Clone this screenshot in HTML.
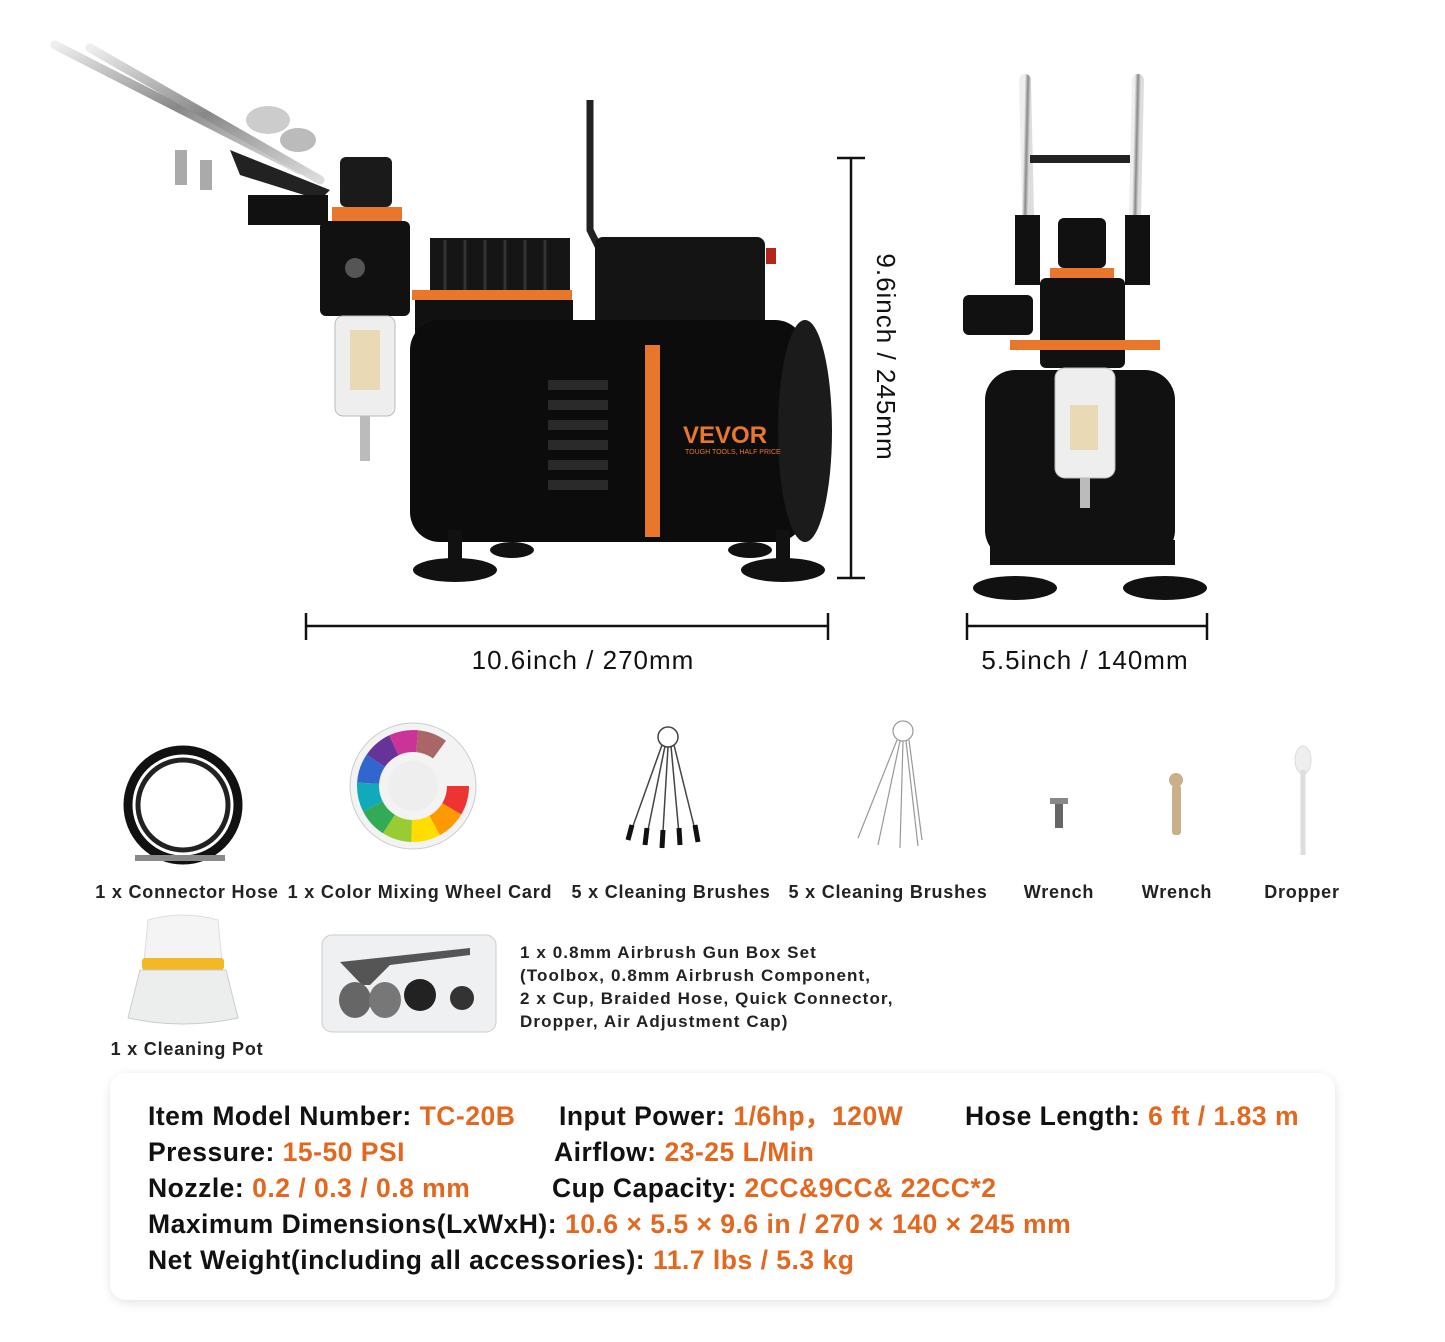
<!DOCTYPE html>
<html><head><meta charset="utf-8"><style>
html,body{margin:0;padding:0;background:#fff;}
svg{display:block;font-family:"Liberation Sans",Arial,sans-serif;}
</style></head><body>
<svg width="1445" height="1342" viewBox="0 0 1445 1342" xmlns="http://www.w3.org/2000/svg">
<defs>
<filter id="sh" x="-5%" y="-10%" width="110%" height="120%"><feGaussianBlur stdDeviation="6"/></filter>
<linearGradient id="chrome" x1="0" y1="0" x2="1" y2="1"><stop offset="0" stop-color="#eee"/><stop offset=".5" stop-color="#888"/><stop offset="1" stop-color="#ddd"/></linearGradient>
</defs>
<g stroke="url(#chrome)" stroke-linecap="round">
<line x1="55" y1="45" x2="300" y2="170" stroke-width="9"/>
<line x1="90" y1="48" x2="320" y2="180" stroke-width="9"/>
</g>
<ellipse cx="268" cy="120" rx="22" ry="14" fill="#ccc"/>
<ellipse cx="298" cy="140" rx="18" ry="12" fill="#bbb"/>
<rect x="175" y="150" width="12" height="35" fill="#aaa"/><rect x="200" y="160" width="12" height="30" fill="#aaa"/>
<path d="M230 150 L330 190 L320 200 L240 175 Z" fill="#222"/>
<rect x="248" y="195" width="80" height="30" fill="#111"/>
<rect x="340" y="157" width="52" height="50" rx="6" fill="#1a1a1a"/>
<rect x="332" y="207" width="70" height="14" fill="#e8762b"/>
<rect x="320" y="221" width="90" height="95" rx="6" fill="#111"/>
<circle cx="355" cy="268" r="10" fill="#555"/>
<rect x="335" y="316" width="60" height="100" rx="8" fill="#eee" stroke="#bbb"/>
<rect x="350" y="330" width="30" height="60" fill="#e9d9b5"/>
<rect x="360" y="416" width="10" height="45" fill="#bbb"/>
<rect x="430" y="238" width="140" height="62" fill="#151515"/>
<g stroke="#333" stroke-width="3"><line x1="445" y1="240" x2="445" y2="298"/><line x1="465" y1="240" x2="465" y2="298"/><line x1="485" y1="240" x2="485" y2="298"/><line x1="505" y1="240" x2="505" y2="298"/><line x1="525" y1="240" x2="525" y2="298"/><line x1="545" y1="240" x2="545" y2="298"/></g>
<rect x="412" y="290" width="160" height="10" fill="#e8762b"/>
<rect x="415" y="300" width="158" height="35" fill="#111"/>
<path d="M590 100 L590 230 L600 250" stroke="#222" stroke-width="7" fill="none"/>
<rect x="595" y="237" width="170" height="95" rx="8" fill="#141414"/>
<rect x="766" y="248" width="10" height="16" fill="#b3261e"/>
<rect x="410" y="320" width="395" height="222" rx="30" fill="#0c0c0c"/>
<ellipse cx="805" cy="431" rx="27" ry="111" fill="#1b1b1b"/>
<rect x="645" y="345" width="15" height="192" fill="#e8762b"/>
<g fill="#2a2a2a"><rect x="548" y="380" width="60" height="10"/><rect x="548" y="400" width="60" height="10"/><rect x="548" y="420" width="60" height="10"/><rect x="548" y="440" width="60" height="10"/><rect x="548" y="460" width="60" height="10"/><rect x="548" y="480" width="60" height="10"/></g>
<text x="683" y="443" font-size="24" font-weight="bold" fill="#e8762b">VEVOR</text>
<text x="685" y="454" font-size="7" fill="#e8762b">TOUGH TOOLS, HALF PRICE</text>
<g fill="#111"><ellipse cx="455" cy="570" rx="42" ry="12"/><ellipse cx="512" cy="550" rx="22" ry="8"/><ellipse cx="783" cy="570" rx="42" ry="12"/><ellipse cx="750" cy="550" rx="22" ry="8"/></g>
<rect x="448" y="530" width="14" height="35" fill="#111"/><rect x="776" y="530" width="14" height="35" fill="#111"/>
<g stroke="#111" stroke-width="2.5">
<line x1="306" y1="626" x2="828" y2="626"/><line x1="306" y1="613" x2="306" y2="640"/><line x1="828" y1="613" x2="828" y2="640"/>
<line x1="967" y1="626" x2="1207" y2="626"/><line x1="967" y1="613" x2="967" y2="640"/><line x1="1207" y1="613" x2="1207" y2="640"/>
<line x1="851" y1="158" x2="851" y2="578"/><line x1="837" y1="158" x2="865" y2="158"/><line x1="837" y1="578" x2="865" y2="578"/>
</g>
<g font-size="26" letter-spacing="1" text-anchor="middle" fill="#111">
<text x="583" y="669">10.6inch / 270mm</text>
<text x="1085" y="669">5.5inch / 140mm</text>
<text transform="translate(877,357) rotate(90)">9.6inch / 245mm</text>
</g>
<g stroke="url(#chrome)" stroke-width="12" stroke-linecap="round"><line x1="1025" y1="80" x2="1028" y2="215"/><line x1="1138" y1="80" x2="1135" y2="215"/></g>
<rect x="1030" y="155" width="100" height="8" fill="#222"/>
<rect x="1015" y="215" width="25" height="70" fill="#111"/><rect x="1125" y="215" width="25" height="70" fill="#111"/>
<rect x="963" y="295" width="70" height="40" rx="6" fill="#111"/>
<rect x="1058" y="218" width="48" height="50" rx="6" fill="#111"/>
<rect x="1050" y="268" width="64" height="10" fill="#e8762b"/>
<rect x="1040" y="278" width="85" height="90" rx="6" fill="#111"/>
<rect x="1010" y="340" width="150" height="10" fill="#e8762b"/>
<rect x="985" y="370" width="190" height="190" rx="30" fill="#111"/>
<rect x="1055" y="368" width="60" height="110" rx="10" fill="#eee" stroke="#bbb"/>
<rect x="1070" y="405" width="28" height="45" fill="#e9d9b5"/>
<rect x="1080" y="478" width="10" height="30" fill="#bbb"/>
<rect x="990" y="540" width="185" height="25" fill="#111"/>
<ellipse cx="1015" cy="588" rx="42" ry="12" fill="#111"/><ellipse cx="1165" cy="588" rx="42" ry="12" fill="#111"/>
<circle cx="183" cy="805" r="55" fill="none" stroke="#111" stroke-width="9"/>
<circle cx="183" cy="805" r="45" fill="none" stroke="#222" stroke-width="5"/>
<line x1="135" y1="858" x2="225" y2="858" stroke="#888" stroke-width="6"/>
<circle cx="413" cy="786" r="63" fill="#f3f3f3" stroke="#ccc"/>
<g fill="none" stroke-width="22">
<circle cx="413" cy="786" r="45" stroke="#e33" stroke-dasharray="24 260"/>
<circle cx="413" cy="786" r="45" stroke="#f90" stroke-dasharray="0 24 24 236"/>
<circle cx="413" cy="786" r="45" stroke="#fd0" stroke-dasharray="0 48 24 212"/>
<circle cx="413" cy="786" r="45" stroke="#9c3" stroke-dasharray="0 72 24 188"/>
<circle cx="413" cy="786" r="45" stroke="#3a5" stroke-dasharray="0 96 24 164"/>
<circle cx="413" cy="786" r="45" stroke="#1ab" stroke-dasharray="0 120 24 140"/>
<circle cx="413" cy="786" r="45" stroke="#36c" stroke-dasharray="0 144 24 116"/>
<circle cx="413" cy="786" r="45" stroke="#639" stroke-dasharray="0 168 24 92"/>
<circle cx="413" cy="786" r="45" stroke="#c39" stroke-dasharray="0 192 24 68"/>
<circle cx="413" cy="786" r="45" stroke="#a66" stroke-dasharray="0 216 24 44"/>
</g>
<circle cx="413" cy="786" r="25" fill="#eee"/>
<g stroke="#444" stroke-width="1.5" fill="none">
<circle cx="668" cy="737" r="10"/>
<line x1="662" y1="745" x2="628" y2="840"/><line x1="665" y1="746" x2="645" y2="845"/><line x1="668" y1="747" x2="662" y2="848"/><line x1="671" y1="746" x2="680" y2="845"/><line x1="674" y1="745" x2="698" y2="842"/>
</g>
<g stroke="#111" stroke-width="5"><line x1="632" y1="825" x2="628" y2="840"/><line x1="647" y1="828" x2="645" y2="845"/><line x1="663" y1="830" x2="662" y2="848"/><line x1="679" y1="828" x2="680" y2="845"/><line x1="695" y1="825" x2="698" y2="842"/></g>
<g stroke="#999" stroke-width="1.2" fill="none">
<circle cx="903" cy="731" r="10"/>
<line x1="897" y1="740" x2="858" y2="838"/><line x1="900" y1="741" x2="878" y2="845"/><line x1="903" y1="741" x2="900" y2="848"/><line x1="906" y1="741" x2="918" y2="846"/><line x1="909" y1="740" x2="922" y2="840"/>
</g>
<rect x="1055" y="798" width="8" height="30" fill="#666"/><rect x="1050" y="798" width="18" height="6" fill="#888"/>
<rect x="1172" y="785" width="9" height="50" rx="3" fill="#c9b08a"/><circle cx="1176" cy="780" r="7" fill="#c9b08a"/>
<ellipse cx="1303" cy="760" rx="8" ry="14" fill="#eee" stroke="#ddd"/><line x1="1303" y1="770" x2="1303" y2="855" stroke="#ddd" stroke-width="5"/>
<g font-size="18" font-weight="bold" fill="#222" text-anchor="middle" letter-spacing="0.8">
<text x="187" y="898">1 x Connector Hose</text>
<text x="420" y="898">1 x Color Mixing Wheel Card</text>
<text x="671" y="898">5 x Cleaning Brushes</text>
<text x="888" y="898">5 x Cleaning Brushes</text>
<text x="1059" y="898">Wrench</text>
<text x="1177" y="898">Wrench</text>
<text x="1302" y="898">Dropper</text>
<text x="187" y="1055">1 x Cleaning Pot</text>
</g>
<path d="M148 920 Q182 910 218 920 L222 962 L144 962 Z" fill="#f4f4f4" stroke="#ddd"/>
<rect x="142" y="958" width="82" height="12" rx="3" fill="#f2b825"/>
<path d="M140 970 L226 970 L238 1018 Q183 1030 128 1018 Z" fill="#eceeee" stroke="#ccc"/>
<rect x="322" y="935" width="174" height="97" rx="10" fill="#eef0f2" stroke="#ccc"/>
<path d="M340 962 L470 948 L470 955 L390 965 L370 985 L362 985 Z" fill="#555"/>
<ellipse cx="355" cy="1000" rx="16" ry="18" fill="#666"/><ellipse cx="385" cy="1000" rx="16" ry="18" fill="#777"/>
<circle cx="420" cy="995" r="16" fill="#222"/><circle cx="462" cy="998" r="12" fill="#333"/>
<g font-size="17" font-weight="bold" fill="#222" letter-spacing="1.1">
<text x="520" y="958">1 x 0.8mm Airbrush Gun Box Set</text>
<text x="520" y="981">(Toolbox, 0.8mm Airbrush Component,</text>
<text x="520" y="1004">2 x Cup, Braided Hose, Quick Connector,</text>
<text x="520" y="1027">Dropper, Air Adjustment Cap)</text>
</g>
<rect x="112" y="1077" width="1222" height="224" rx="16" fill="#000" opacity=".15" filter="url(#sh)"/>
<rect x="110" y="1073" width="1225" height="227" rx="16" fill="#fff"/>
<g font-size="26.5" font-weight="bold" fill="#111" letter-spacing="0.5">
<text x="148" y="1125">Item Model Number: <tspan fill="#e2671f">TC-20B</tspan></text>
<text x="559" y="1125">Input Power: <tspan fill="#e2671f">1/6hp，120W</tspan></text>
<text x="965" y="1125">Hose Length: <tspan fill="#e2671f">6 ft  / 1.83 m</tspan></text>
<text x="148" y="1161">Pressure: <tspan fill="#e2671f">15-50 PSI</tspan></text>
<text x="554" y="1161">Airflow: <tspan fill="#e2671f">23-25 L/Min</tspan></text>
<text x="148" y="1197">Nozzle: <tspan fill="#e2671f">0.2 / 0.3 / 0.8 mm</tspan></text>
<text x="552" y="1197">Cup Capacity: <tspan fill="#e2671f">2CC&amp;9CC&amp; 22CC*2</tspan></text>
<text x="148" y="1233">Maximum Dimensions(LxWxH): <tspan fill="#e2671f">10.6 × 5.5 × 9.6 in / 270 × 140 × 245 mm</tspan></text>
<text x="148" y="1269">Net Weight(including all accessories): <tspan fill="#e2671f">11.7 lbs / 5.3 kg</tspan></text>
</g>
</svg>
</body></html>
